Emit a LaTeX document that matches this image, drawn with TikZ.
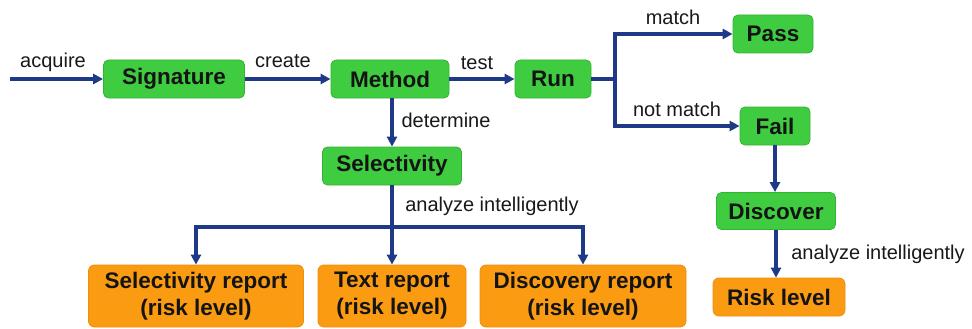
\documentclass[tikz,border=0pt]{standalone}
\usepackage{fontspec}
\setmainfont{Liberation Sans}
\usetikzlibrary{arrows.meta}
\definecolor{flowblue}{RGB}{30,58,135}
\definecolor{boxgreen}{RGB}{64,204,64}
\definecolor{greenedge}{RGB}{50,180,50}
\definecolor{boxorange}{RGB}{250,155,18}
\definecolor{orangeedge}{RGB}{238,142,14}
\begin{document}
\begin{tikzpicture}[x=1pt,y=-1pt,
  gbox/.style={draw=greenedge, fill=boxgreen, line width=0.8pt, rounded corners=5pt, inner sep=0pt, minimum height=38pt, font=\fontsize{22.5}{27}\selectfont\bfseries, text=black!92},
  obox/.style={draw=orangeedge, fill=boxorange, line width=0.8pt, rounded corners=6pt, inner sep=0pt, minimum height=62pt, align=center, font=\fontsize{22.5}{27}\selectfont\bfseries, text=black!92},
  lbl/.style={font=\fontsize{20}{24}\selectfont, text=black!90, inner sep=0pt, anchor=base},
  flow/.style={draw=flowblue, line width=3.2pt, -{Triangle[length=10pt,width=10pt]}},
  link/.style={draw=flowblue, line width=3.2pt}]
\useasboundingbox[fill=white] (0,0) rectangle (972,329);

\node[gbox,minimum width=141pt] (sig) at (174,79) {Signature};
\node[gbox,minimum width=118pt] (meth) at (390,79) {Method};
\node[gbox,minimum width=76pt] (run) at (553,79) {Run};
\node[gbox,minimum width=139pt] (sel) at (392,166) {Selectivity};
\node[gbox,minimum width=80pt] (pass) at (773,34) {Pass};
\node[gbox,minimum width=70pt] (fail) at (775,126) {Fail};
\node[gbox,minimum width=119pt,minimum height=37pt] (disc) at (776,211) {Discover};
\node[obox,minimum width=132pt,minimum height=38pt] (risk) at (779,297) {Risk level};
\node[obox,minimum width=215pt] (srep) at (196,296) {Selectivity report\\(risk level)};
\node[obox,minimum width=148pt] (trep) at (392,296) {Text report\\(risk level)};
\node[obox,minimum width=206pt] (drep) at (583,296) {Discovery report\\(risk level)};

\coordinate (start) at (10,79);
\coordinate (split) at (615,79);
\coordinate (bar) at (392,227);

\draw[flow] (start) -- (sig);
\draw[flow] (sig) -- (meth);
\draw[flow] (meth) -- (run);
\draw[link] (run) -- (split);
\draw[flow] (split) |- (pass);
\draw[flow] (split) |- (fail);
\draw[flow] (meth.south -| sel.north) -- (sel.north);
\draw[link] (sel) -- (bar);
\draw[flow] (bar) -| (srep);
\draw[flow] (bar) -- (trep);
\draw[flow] (bar) -| (drep);
\draw[flow] (fail) -- (fail |- disc.north);
\draw[flow] (disc) -- (disc |- risk.north);

\node[lbl] (lacq) at (53,68) {acquire};
\node[lbl] (lcre) at (283,68) {create};
\node[lbl] (ltest) at (477,70) {test};
\node[lbl] (ldet) at (446,127) {determine};
\node[lbl] (lana1) at (492,211) {analyze intelligently};
\node[lbl] (lmatch) at (673,25) {match};
\node[lbl] (lnot) at (677,117) {not match};
\node[lbl] (lana2) at (878,259) {analyze intelligently};
\end{tikzpicture}
\end{document}
